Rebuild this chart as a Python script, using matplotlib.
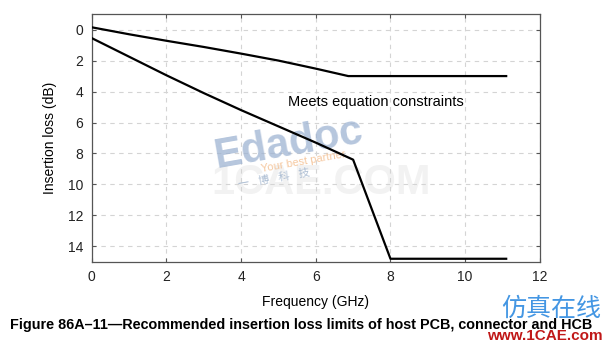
import matplotlib
matplotlib.use("Agg")
import matplotlib.pyplot as plt

plt.rcParams["font.family"] = ["Liberation Sans", "Noto Sans CJK SC", "DejaVu Sans"]

# host PCB / connector / HCB insertion loss limits (dB vs GHz)
upper_f = [0.0, 1.0, 2.0, 3.0, 4.0, 5.0, 6.0, 6.87, 11.1]
upper_il = [-0.15, 0.3, 0.72, 1.12, 1.55, 2.0, 2.52, 3.0, 3.0]

lower_f = [0.0, 0.5, 1.0, 2.0, 3.0, 4.0, 5.0, 6.0, 7.0, 8.0, 11.1]
lower_il = [0.55, 1.15, 1.75, 2.95, 4.1, 5.2, 6.25, 7.3, 8.4, 14.8, 14.8]

xticks = [0, 2, 4, 6, 8, 10, 12]
yticks = [0, 2, 4, 6, 8, 10, 12, 14]

caption = "Figure 86A\u201311\u2014Recommended insertion loss limits of host PCB, connector and HCB"

fig = plt.figure(figsize=(6.12, 3.45), dpi=100)
ax = fig.add_axes([0.150, 0.241, 0.732, 0.718])

ax.plot(upper_f, upper_il, color="black", lw=1.6, zorder=3)
ax.plot(lower_f, lower_il, color="black", lw=1.6, zorder=3)

ax.set_xlim(0, 12)
ax.set_ylim(15, -1)
ax.set_xticks(xticks)
ax.set_yticks(yticks)
ax.grid(True, ls=(0, (4, 4)), color="#d4d4d4", lw=0.8)
ax.tick_params(direction="in", top=True, right=True, length=3,
               labelsize=10, color="#555555", labelcolor="#222222", pad=6)
for s in ax.spines.values():
    s.set_color("#555555")
    s.set_linewidth(0.9)

ax.set_xlabel("Frequency (GHz)", fontsize=10, labelpad=8)
ax.set_ylabel("Insertion loss (dB)", fontsize=10, labelpad=8)

ax.text(5.25, 4.7, "Meets equation constraints", fontsize=10.5, va="center", zorder=4)

# watermark
ax.text(3.2, 9.9, "1CAE.COM", fontsize=30, color="#f2f2f2", fontweight="bold",
        va="center", zorder=1)
ax.text(3.2, 7.4, "Edadoc", fontsize=30, color="#9db3d2", fontweight="bold",
        rotation=10, va="center", alpha=0.75, zorder=2)
ax.text(4.5, 8.5, "Your best partner", fontsize=8, color="#f4bf90",
        rotation=10, va="center", alpha=0.85, zorder=2)
ax.text(3.9, 9.6, "一   博   科   技", fontsize=8, color="#9fb3cc",
        rotation=10, va="center", alpha=0.85, zorder=2)

fig.text(0.016, 0.058, caption, fontsize=10.4, fontweight="bold", va="center")
fig.text(0.982, 0.105, "仿真在线", fontsize=18, color="#2f8be0", ha="right",
         va="center", family=["Noto Sans CJK SC", "DejaVu Sans"], alpha=0.9)
fig.text(0.985, 0.025, "www.1CAE.com", fontsize=11, color="#c01818", ha="right",
         va="center", fontweight="bold")

fig.savefig("out.png", dpi=100)
